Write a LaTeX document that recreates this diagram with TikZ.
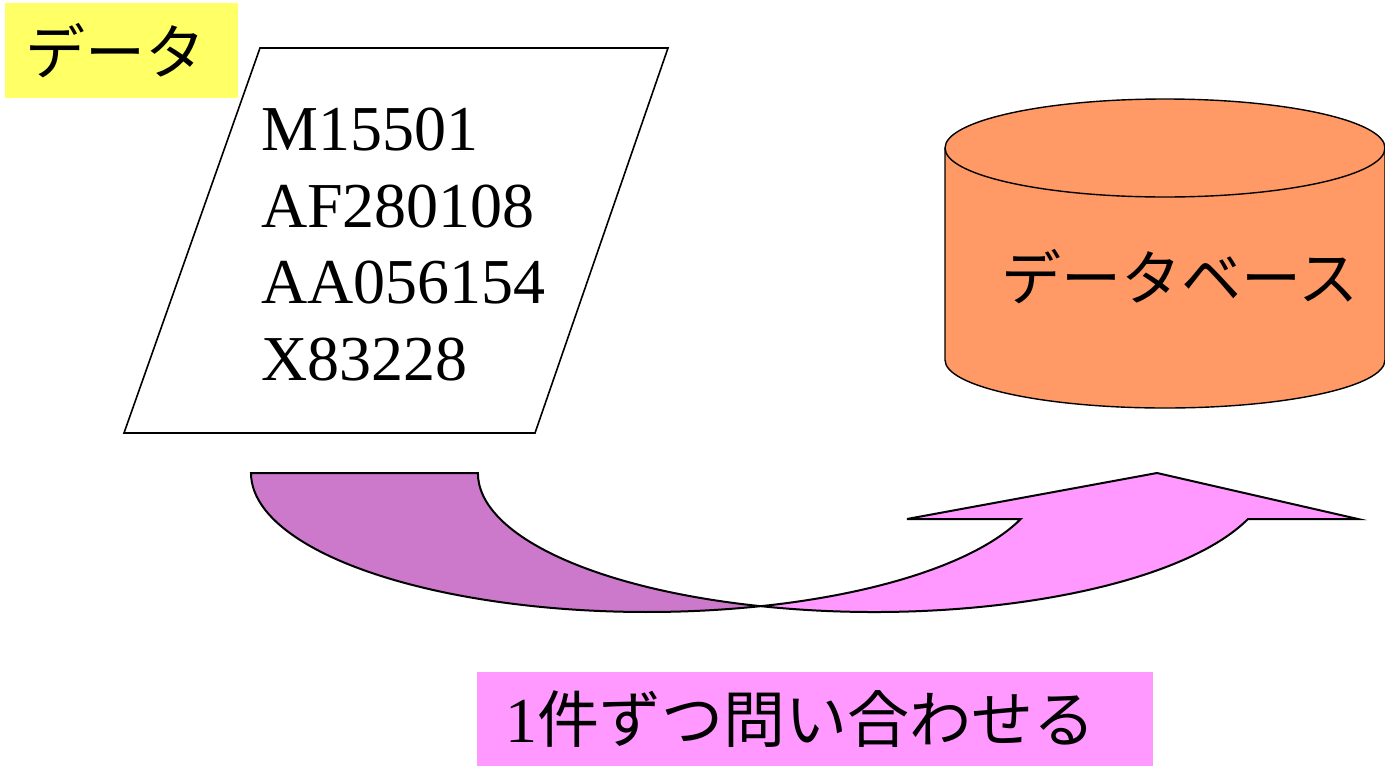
\documentclass[tikz,border=0pt]{standalone}
\usepackage{fontspec}
\setmainfont{Liberation Serif}
\newfontfamily\jp{Noto Sans CJK JP}
\definecolor{labelyellow}{HTML}{FFFF66}
\definecolor{dborange}{HTML}{FF9966}
\definecolor{backpurple}{HTML}{CC79CC}
\definecolor{frontpink}{HTML}{FF99FF}
\tikzset{
  outline/.style={draw=black, line width=1.6pt, line join=miter},
  arrowpart/.style={draw=black, line width=2pt, line join=miter},
  idtext/.style={anchor=base west, inner sep=0pt, font=\fontsize{64}{77}\selectfont},
  jplabel/.style={anchor=north west, inner ysep=0pt, align=left, font=\jp\fontsize{60}{70}\selectfont},
}
\begin{document}
\begin{tikzpicture}[x=1pt,y=1pt]
\useasboundingbox (0,0) rectangle (1385,-766);
% data label
\node[jplabel, fill=labelyellow, minimum width=233, minimum height=95, text width=193, inner xsep=20] (datalabel) at (5,-3) {データ};
% parallelogram with IDs
\coordinate (p1) at (260,-48);
\coordinate (p2) at (668,-48);
\coordinate (p3) at (535,-433);
\coordinate (p4) at (124,-433);
\path[outline, fill=white] (p1) -- (p2) -- (p3) -- (p4) -- cycle;
\node[idtext] (id1) at (261,-150) {M15501};
\node[idtext] (id2) at (261,-227) {AF280108};
\node[idtext] (id3) at (261,-303) {AA056154};
\node[idtext] (id4) at (261,-380) {X83228};
% database cylinder
\coordinate (cylA) at (945,-148);
\path[outline, line width=1.4pt, fill=dborange] (cylA) -- (945,-360)
  arc[start angle=180, end angle=360, x radius=220, y radius=48]
  -- (1385,-148)
  arc[start angle=0, end angle=180, x radius=220, y radius=49] -- cycle;
\draw[line width=1.4pt] (cylA) arc[start angle=180, end angle=360, x radius=220, y radius=49];
\node[inner sep=0pt, font=\jp\fontsize{60}{70}\selectfont] (db) at (1180,-277) {データベース};
% curved up arrow: back part
\coordinate (a0) at (251,-473);
\coordinate (ax) at (760.5,-606.2);
\path[arrowpart, fill=backpurple] (a0)
  arc[start angle=180, end angle=286.65, x radius=396, y radius=139]
  arc[start angle=253.35, end angle=180, x radius=396, y radius=139] -- cycle;
% front part with head
\coordinate (hl) at (907,-519);
\coordinate (tip) at (1157,-473);
\coordinate (hr) at (1358,-519);
\coordinate (hi) at (1248,-519);
\path[arrowpart, fill=frontpink] (ax)
  arc[start angle=286.65, end angle=340.67, x radius=396, y radius=139]
  -- (hl) -- (tip) -- (hr) -- (hi)
  arc[start angle=340.67, end angle=253.35, x radius=396, y radius=139] -- cycle;
% bottom label
\node[anchor=north west, fill=frontpink, minimum width=676, minimum height=94, text width=620, inner xsep=28, inner ysep=0pt, align=left] (query) at (477,-672) {\fontsize{64}{72}\selectfont 1{\jp\fontsize{62}{72}\selectfont 件ずつ問い合わせる}};
\end{tikzpicture}
\end{document}
